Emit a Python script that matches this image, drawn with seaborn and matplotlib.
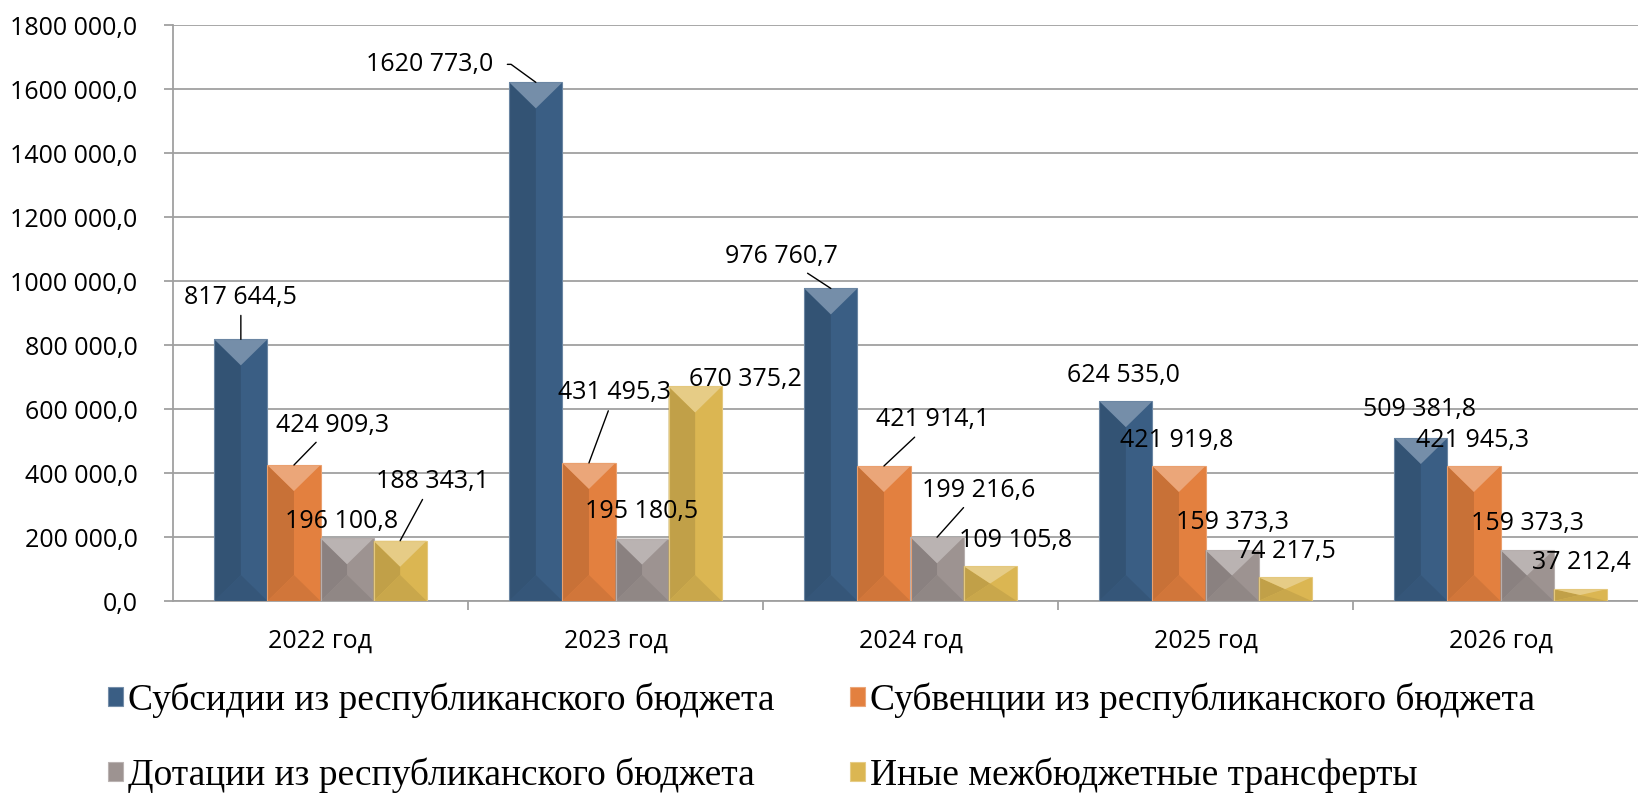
import numpy as np
import pandas as pd
import matplotlib
matplotlib.use("Agg")
import matplotlib.pyplot as plt
import seaborn as sns
from matplotlib.patches import Polygon, Patch
from matplotlib.ticker import FuncFormatter, FixedLocator
from matplotlib.colors import to_rgb

years = ["2022 год", "2023 год", "2024 год", "2025 год", "2026 год"]
series = [
    "Субсидии из республиканского бюджета",
    "Субвенции из республиканского бюджета",
    "Дотации из республиканского бюджета",
    "Иные межбюджетные трансферты",
]
subsidies = [817644.5, 1620773.0, 976760.7, 624535.0, 509381.8]
subventions = [424909.3, 431495.3, 421914.1, 421919.8, 421945.3]
dotations = [196100.8, 195180.5, 199216.6, 159373.3, 159373.3]
other = [188343.1, 670375.2, 109105.8, 74217.5, 37212.4]

colors = ["#3A5E84", "#E3803F", "#9D9391", "#DBB652"]

# label placement (pixel offsets from bar top) and whether a leader line is drawn
label_offsets = [
    [(0, 42, True), (-106, 18, True), (-49, 32, True), (-2, 26, False), (-1, 28, False)],
    [(39, 40, True), (26, 70, True), (49, 46, True), (-2, 25, False), (-1, 25, False)],
    [(-5, 17, False), (0, 27, False), (42, 47, True), (0, 28, False), (0, 27, False)],
    [(32, 59, True), (50, 7, False), (25, 26, False), (1, 26, False), (1, 27, False)],
]


def fmt_num(v, pos=None):
    v = round(v, 1)
    if v < 1000:
        return f"{v:.1f}".replace(".", ",")
    th = int(v // 1000)
    rest = v - th * 1000
    return f"{th} {rest:05.1f}".replace(".", ",")


def shade(c, f):
    r = np.array(to_rgb(c))
    if f > 0:
        return tuple(r + (1 - r) * f)
    return tuple(r * (1 + f))


df = pd.DataFrame({
    "year": np.repeat(years, len(series)),
    "series": series * len(years),
    "value": np.ravel(np.column_stack([subsidies, subventions, dotations, other])),
})

W, H, DPI = 1638, 794, 100
fig = plt.figure(figsize=(W / DPI, H / DPI), dpi=DPI)
ax = fig.add_axes([173 / W, (H - 601) / H, 1475 / W, 576 / H])

sns.barplot(data=df, x="year", y="value", hue="series", hue_order=series,
            order=years, palette=colors, saturation=1, width=0.72,
            legend=False, ax=ax, zorder=3)

ax.set_xlim(-0.5, 4.5)
ax.set_ylim(0, 1800000)
ax.set_xlabel("")
ax.set_ylabel("")

grid_c = "#A0A0A0"
ax.yaxis.set_major_locator(FixedLocator(np.arange(0, 1800001, 200000)))
ax.yaxis.set_major_formatter(FuncFormatter(fmt_num))
ax.grid(axis="y", color=grid_c, lw=1.3, zorder=0)
ax.set_axisbelow(True)
for s in ["top", "right"]:
    ax.spines[s].set_visible(False)
for s in ["left", "bottom"]:
    ax.spines[s].set_color(grid_c)
    ax.spines[s].set_linewidth(1.3)

ax.tick_params(axis="y", length=6.5, color=grid_c, width=1.3, pad=19, labelsize=18)
ax.tick_params(axis="x", which="major", length=0, pad=20, labelsize=18)
ax.set_xticks(np.arange(0.5, 4.5, 1), minor=True)
ax.tick_params(axis="x", which="minor", length=6.5, color=grid_c, width=1.3)
for lab in ax.get_xticklabels() + ax.get_yticklabels():
    lab.set_fontfamily("Open Sans")

# bevel shading on bars
units_per_px = 1800000 / 576
bevel = 26 * units_per_px
for i, cont in enumerate(ax.containers):
    base = colors[i]
    for j, bar in enumerate(cont):
        x0, w, h = bar.get_x(), bar.get_width(), bar.get_height()
        x1, xc = x0 + w, x0 + w / 2
        d = min(bevel, h / 2)
        ax.add_patch(Polygon([(x0, 0), (x0, h), (xc, h - d), (xc, d)],
                             closed=True, fc=shade(base, -0.12), ec="none", zorder=4))
        ax.add_patch(Polygon([(x0, h), (x1, h), (xc, h - d)],
                             closed=True, fc=shade(base, 0.3), ec="none", zorder=4))
        ax.add_patch(Polygon([(x0, 0), (x1, 0), (xc, d)],
                             closed=True, fc=shade(base, -0.08), ec="none", zorder=4))
        ax.add_patch(Polygon([(x0, 0), (x0, h), (x1, h), (x1, 0)],
                             closed=True, fc="none", ec=shade(base, 0.25), lw=0.8, zorder=5))

        dx, dy, leader = label_offsets[i][j]
        arrow = None
        if leader:
            arrow = dict(arrowstyle="-", color="black", lw=1, shrinkA=2, shrinkB=0)
            if dx < -80:
                # elbow leader: horizontal out of the text, then down to the bar
                arrow.update(relpos=(1, 0.5), connectionstyle="angle,angleA=0,angleB=144,rad=0",
                             shrinkA=8)
        ax.annotate(fmt_num(h), xy=(xc, h), xytext=(dx, dy), textcoords="offset pixels",
                    ha="center", va="center", fontsize=18, fontfamily="Open Sans",
                    arrowprops=arrow, zorder=6, annotation_clip=False)

order = [0, 2, 1, 3]
handles = [Patch(fc=colors[k], ec=shade(colors[k], 0.3), lw=0.8) for k in order]
fig.legend(handles, [series[k] for k in order], ncol=2, loc="upper left",
           bbox_to_anchor=(108 / W, 1 - 682 / H), borderaxespad=0,
           frameon=False, borderpad=0, handlelength=0.4, handleheight=0.4,
           handletextpad=0.14, columnspacing=2.0, labelspacing=1.06,
           prop={"family": "Liberation Serif", "size": 27})

fig.savefig("out.png", dpi=DPI)
